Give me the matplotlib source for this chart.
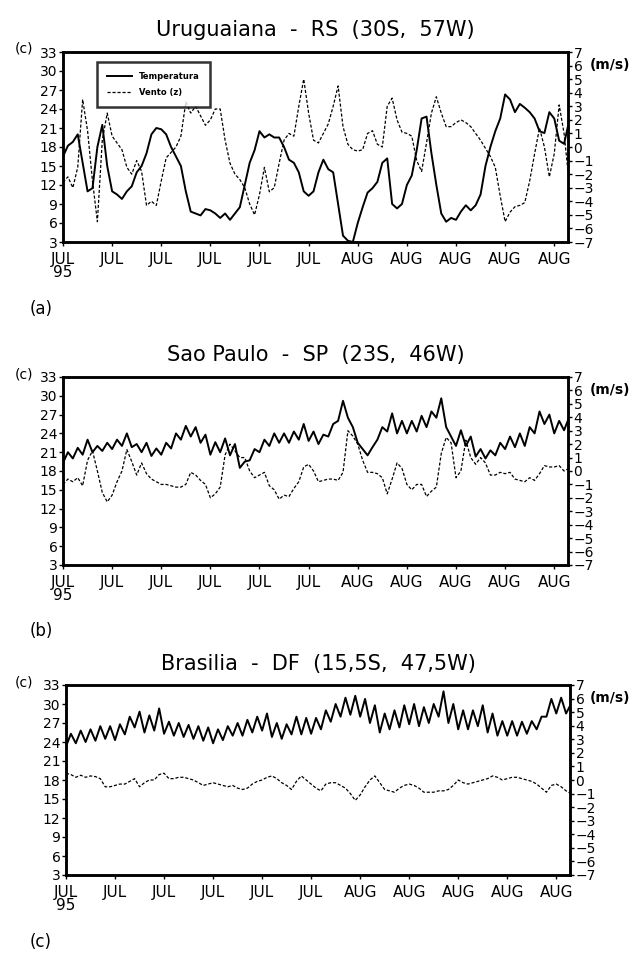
import numpy as np
import matplotlib
matplotlib.use("Agg")
import matplotlib.pyplot as plt

# eixo x: meio dia entre pontos (dias desde 1 de julho de 1995)
xlabels = ["JUL\n95", "JUL", "JUL", "JUL", "JUL", "JUL", "AUG", "AUG", "AUG", "AUG", "AUG"]
xticks = [0, 5, 10, 15, 20, 25, 30, 35, 40, 45, 50]

titles = ["Uruguaiana  -  RS  (30S,  57W)", "Sao Paulo  -  SP  (23S,  46W)",
          "Brasilia  -  DF  (15,5S,  47,5W)"]
letters = ["(a)", "(b)", "(c)"]

# Uruguaiana
temp_uru = [16.5, 18.2, 18.8, 20.0, 15.5, 11.0, 11.5, 18.0, 21.5, 15.0,
            11.0, 10.5, 9.8, 11.0, 11.8, 14.0, 15.0, 17.0, 20.0, 21.0,
            20.8, 20.0, 18.0, 16.5, 15.0, 11.0, 7.8, 7.5, 7.2, 8.2,
            8.0, 7.5, 6.8, 7.5, 6.5, 7.5, 8.5, 12.0, 15.5, 17.5,
            20.5, 19.5, 20.0, 19.5, 19.5, 18.0, 16.0, 15.5, 14.0, 11.0,
            10.3, 11.0, 14.0, 16.0, 14.5, 14.0, 9.0, 4.0, 3.2, 3.0,
            6.0, 8.5, 10.8, 11.5, 12.5, 15.5, 16.2, 9.0, 8.3, 9.0,
            12.0, 13.5, 17.5, 22.5, 22.8, 17.0, 12.0, 7.5, 6.2, 6.8,
            6.5, 7.8, 8.8, 8.0, 8.8, 10.5, 15.0, 18.0, 20.5, 22.5,
            26.3, 25.5, 23.5, 24.8, 24.2, 23.5, 22.5, 20.5, 20.2, 23.5,
            22.5, 19.0, 18.5, 22.0]
wind_uru = [-2.6, -2.2, -3.0, -1.5, 3.5, 1.2, -2.5, -5.5, 0.5, 2.5,
            0.8, 0.3, -0.2, -1.5, -2.0, -1.0, -1.8, -4.3, -4.0, -4.3,
            -2.5, -0.8, -0.4, 0.0, 0.8, 3.3, 2.5, 3.0, 2.3, 1.6,
            2.0, 2.8, 2.8, 0.5, -1.2, -2.0, -2.4, -3.0, -4.2, -5.0,
            -3.5, -1.5, -3.3, -3.0, -1.2, 0.5, 1.0, 0.8, 3.0, 5.0,
            2.5, 0.5, 0.3, 1.0, 1.7, 3.0, 4.5, 1.5, 0.2, -0.2,
            -0.3, -0.2, 1.0, 1.2, 0.2, 0.0, 3.0, 3.6, 2.0, 1.1,
            1.0, 0.8, -1.0, -1.8, 0.3, 2.5, 3.7, 2.5, 1.5, 1.5,
            1.8, 2.0, 1.8, 1.5, 1.0, 0.5, -0.1, -0.7, -1.5, -3.6,
            -5.5, -4.8, -4.4, -4.3, -4.1, -2.5, -0.5, 1.4, 0.0, -2.2,
            -0.5, 3.1, 1.0, -2.5]

# Sao Paulo
temp_sp = [19.3, 21.0, 20.0, 21.7, 20.6, 23.0, 21.0, 22.0, 21.2, 22.5,
           21.5, 23.0, 22.0, 24.0, 21.8, 22.3, 21.0, 22.5, 20.4, 21.6,
           20.6, 22.5, 21.6, 24.0, 23.0, 25.2, 23.5, 25.0, 22.5, 23.8,
           20.6, 22.6, 21.0, 23.2, 20.5, 22.3, 18.5, 19.5, 19.7, 21.5,
           21.0, 23.0, 22.0, 24.0, 22.5, 24.0, 22.5, 24.3, 23.0, 25.5,
           22.8, 24.3, 22.3, 23.8, 23.5, 25.5, 26.0, 29.2, 26.5, 25.0,
           22.5, 21.5, 20.5, 21.8, 23.0, 25.0, 24.3, 27.2, 24.0, 26.0,
           24.0, 26.0, 24.3, 26.8, 25.0, 27.5, 26.5, 29.6, 25.0, 23.5,
           22.0, 24.5, 22.0, 23.5, 20.3, 21.5, 20.0, 21.3, 20.5, 22.5,
           21.5, 23.5, 21.8, 24.0, 22.0, 25.0, 24.0, 27.5, 25.5, 27.0,
           24.0, 26.0, 24.5, 26.5]
wind_sp = [-1.0, -0.6, -0.8, -0.5, -1.1, 0.8, 1.5, 0.0, -1.6, -2.3,
           -1.8, -0.8, 0.0, 1.6, 0.7, -0.3, 0.6, -0.2, -0.6, -0.8,
           -1.0, -1.0, -1.1, -1.2, -1.2, -1.0, -0.1, -0.3, -0.7, -1.0,
           -2.0, -1.7, -1.2, 1.2, 2.0, 1.5, 1.0, 1.0, 0.0, -0.5,
           -0.3, -0.1, -1.1, -1.4, -2.1, -1.8, -1.9, -1.3, -0.8, 0.3,
           0.5, 0.0, -0.8, -0.7, -0.6, -0.6, -0.7, -0.1, 3.0, 2.6,
           2.0, 0.8, -0.1, -0.1, -0.2, -0.5, -1.7, -0.6, 0.6, 0.2,
           -1.0, -1.4, -1.0, -1.0, -1.9, -1.5, -1.2, 1.3, 2.5, 2.1,
           -0.5, 0.0, 2.3, 1.0, 0.5, 1.0, 0.6, -0.3, -0.3, -0.1,
           -0.2, -0.1, -0.6, -0.7, -0.8, -0.5, -0.7, -0.2, 0.4, 0.3,
           0.3, 0.4, 0.0, 0.2]

# Brasilia
temp_bsb = [23.3, 25.3, 23.8, 25.8, 24.0, 26.0, 24.2, 26.5, 24.5, 26.5,
            24.3, 26.8, 25.2, 28.0, 26.3, 28.8, 25.5, 28.2, 25.8, 29.3,
            25.3, 27.2, 25.0, 27.0, 24.8, 26.7, 24.5, 26.5, 24.2, 26.3,
            23.8, 26.0, 24.3, 26.5, 25.0, 27.0, 25.0, 27.5, 25.5, 28.0,
            25.8, 28.5, 24.8, 27.0, 24.5, 26.8, 25.2, 28.0, 25.2, 27.8,
            25.3, 27.8, 26.0, 29.0, 27.2, 30.0, 28.0, 31.0, 28.3, 31.3,
            28.0, 30.8, 27.0, 29.8, 25.5, 28.5, 26.0, 29.0, 26.3, 29.8,
            26.8, 30.0, 26.5, 29.5, 27.0, 30.0, 28.0, 32.0, 27.0, 30.0,
            26.0, 29.0, 26.0, 29.0, 26.5, 29.8, 25.5, 28.5, 25.0, 27.3,
            25.0, 27.3, 25.0, 27.2, 25.3, 27.3, 26.0, 28.0, 28.0, 30.8,
            28.5, 31.0, 28.5, 30.0]
wind_bsb = [0.5, 0.4, 0.2, 0.35, 0.2, 0.3, 0.25, 0.1, -0.5, -0.5,
            -0.4, -0.3, -0.3, -0.1, 0.1, -0.5, -0.2, 0.0, 0.0, 0.4,
            0.5, 0.1, 0.1, 0.2, 0.2, 0.1, 0.0, -0.2, -0.4, -0.3,
            -0.2, -0.3, -0.4, -0.5, -0.4, -0.6, -0.7, -0.6, -0.3, -0.1,
            0.0, 0.2, 0.3, 0.1, -0.2, -0.4, -0.7, -0.1, 0.3, 0.0,
            -0.3, -0.6, -0.8, -0.3, -0.2, -0.2, -0.4, -0.6, -1.0, -1.5,
            -1.1, -0.5, 0.0, 0.3, -0.2, -0.7, -0.8, -0.9, -0.6, -0.4,
            -0.3, -0.4, -0.6, -0.9, -0.9, -0.9, -0.8, -0.8, -0.7, -0.4,
            0.0, -0.2, -0.3, -0.2, -0.1, 0.0, 0.1, 0.3, 0.2, 0.0,
            0.1, 0.2, 0.2, 0.1, 0.0, -0.1, -0.3, -0.6, -0.9, -0.4,
            -0.3, -0.5, -0.8, -1.0]

temps = [temp_uru, temp_sp, temp_bsb]
winds = [wind_uru, wind_sp, wind_bsb]

W, H = 638, 956
fig = plt.figure(figsize=(W / 100, H / 100), dpi=100)
fig.patch.set_facecolor("white")

tickfont = ["Liberation Sans Narrow", "DejaVu Sans"]
# caixas dos paineis em pixels: (esquerda, topo, direita, base)
boxes = [(63, 52, 568, 242), (63, 377, 568, 565), (66, 685, 570, 875)]
title_y = [30, 355, 664]
letter_y = [309, 631, 942]

for i in range(3):
    l, t, r, b = boxes[i]
    ax = fig.add_axes([l / W, 1 - b / H, (r - l) / W, (b - t) / H])
    t_vals = np.array(temps[i])
    w_vals = np.array(winds[i])
    x_t = np.arange(len(t_vals)) * 0.5
    x_w = np.arange(len(w_vals)) * 0.5

    ax.plot(x_t, t_vals, color="black", lw=1.4, label="Temperatura")
    ax.set_xlim(0, 51.4)
    ax.set_ylim(3, 33)
    ax.set_yticks(np.arange(3, 34, 3))
    ax.set_xticks(xticks)
    ax.set_xticklabels(xlabels, fontsize=11, family=tickfont, linespacing=0.85)
    for lab in ax.get_yticklabels():
        lab.set_family(tickfont)
        lab.set_fontsize(10)
    ax.tick_params(axis="y", direction="out", length=3, width=1, pad=1)
    ax.tick_params(axis="x", direction="out", length=3, width=1, pad=4)
    for s in ax.spines.values():
        s.set_linewidth(1.8)

    ax2 = ax.twinx()
    ax2.plot(x_w, w_vals, color="black", lw=0.9, ls=(0, (2.5, 1.5)), label="Vento (z)")
    ax2.set_ylim(-7, 7)
    ax2.set_yticks(np.arange(-7, 8, 1))
    for lab in ax2.get_yticklabels():
        lab.set_family(tickfont)
        lab.set_fontsize(10)
    ax2.tick_params(axis="y", direction="out", length=3, width=1, pad=1)
    for s in ax2.spines.values():
        s.set_linewidth(1.8)

    fig.text((l + r) / 2 / W, 1 - title_y[i] / H, titles[i], ha="center", va="center",
             fontsize=15, family="DejaVu Sans")
    fig.text(24 / W, 1 - (t - 3) / H, "(c)", ha="center", va="center", fontsize=10,
             family="DejaVu Sans")
    fig.text(610 / W, 1 - (t + 13) / H, "(m/s)", ha="center", va="center", fontsize=10,
             family="DejaVu Sans", fontweight="bold")
    fig.text(41 / W, 1 - letter_y[i] / H, letters[i], ha="center", va="center", fontsize=12,
             family="DejaVu Sans")

    if i == 0:
        h1, l1 = ax.get_legend_handles_labels()
        h2, l2 = ax2.get_legend_handles_labels()
        leg = ax2.legend(h1 + h2, l1 + l2, loc="upper left", bbox_to_anchor=(0.06, 0.97),
                         prop={"family": tickfont, "size": 6, "weight": "bold"},
                         frameon=True, fancybox=False, handlelength=3,
                         borderpad=1.2, labelspacing=0.8)
        leg.get_frame().set_edgecolor("black")
        leg.get_frame().set_linewidth(1.8)

fig.savefig("out.png", dpi=100)
